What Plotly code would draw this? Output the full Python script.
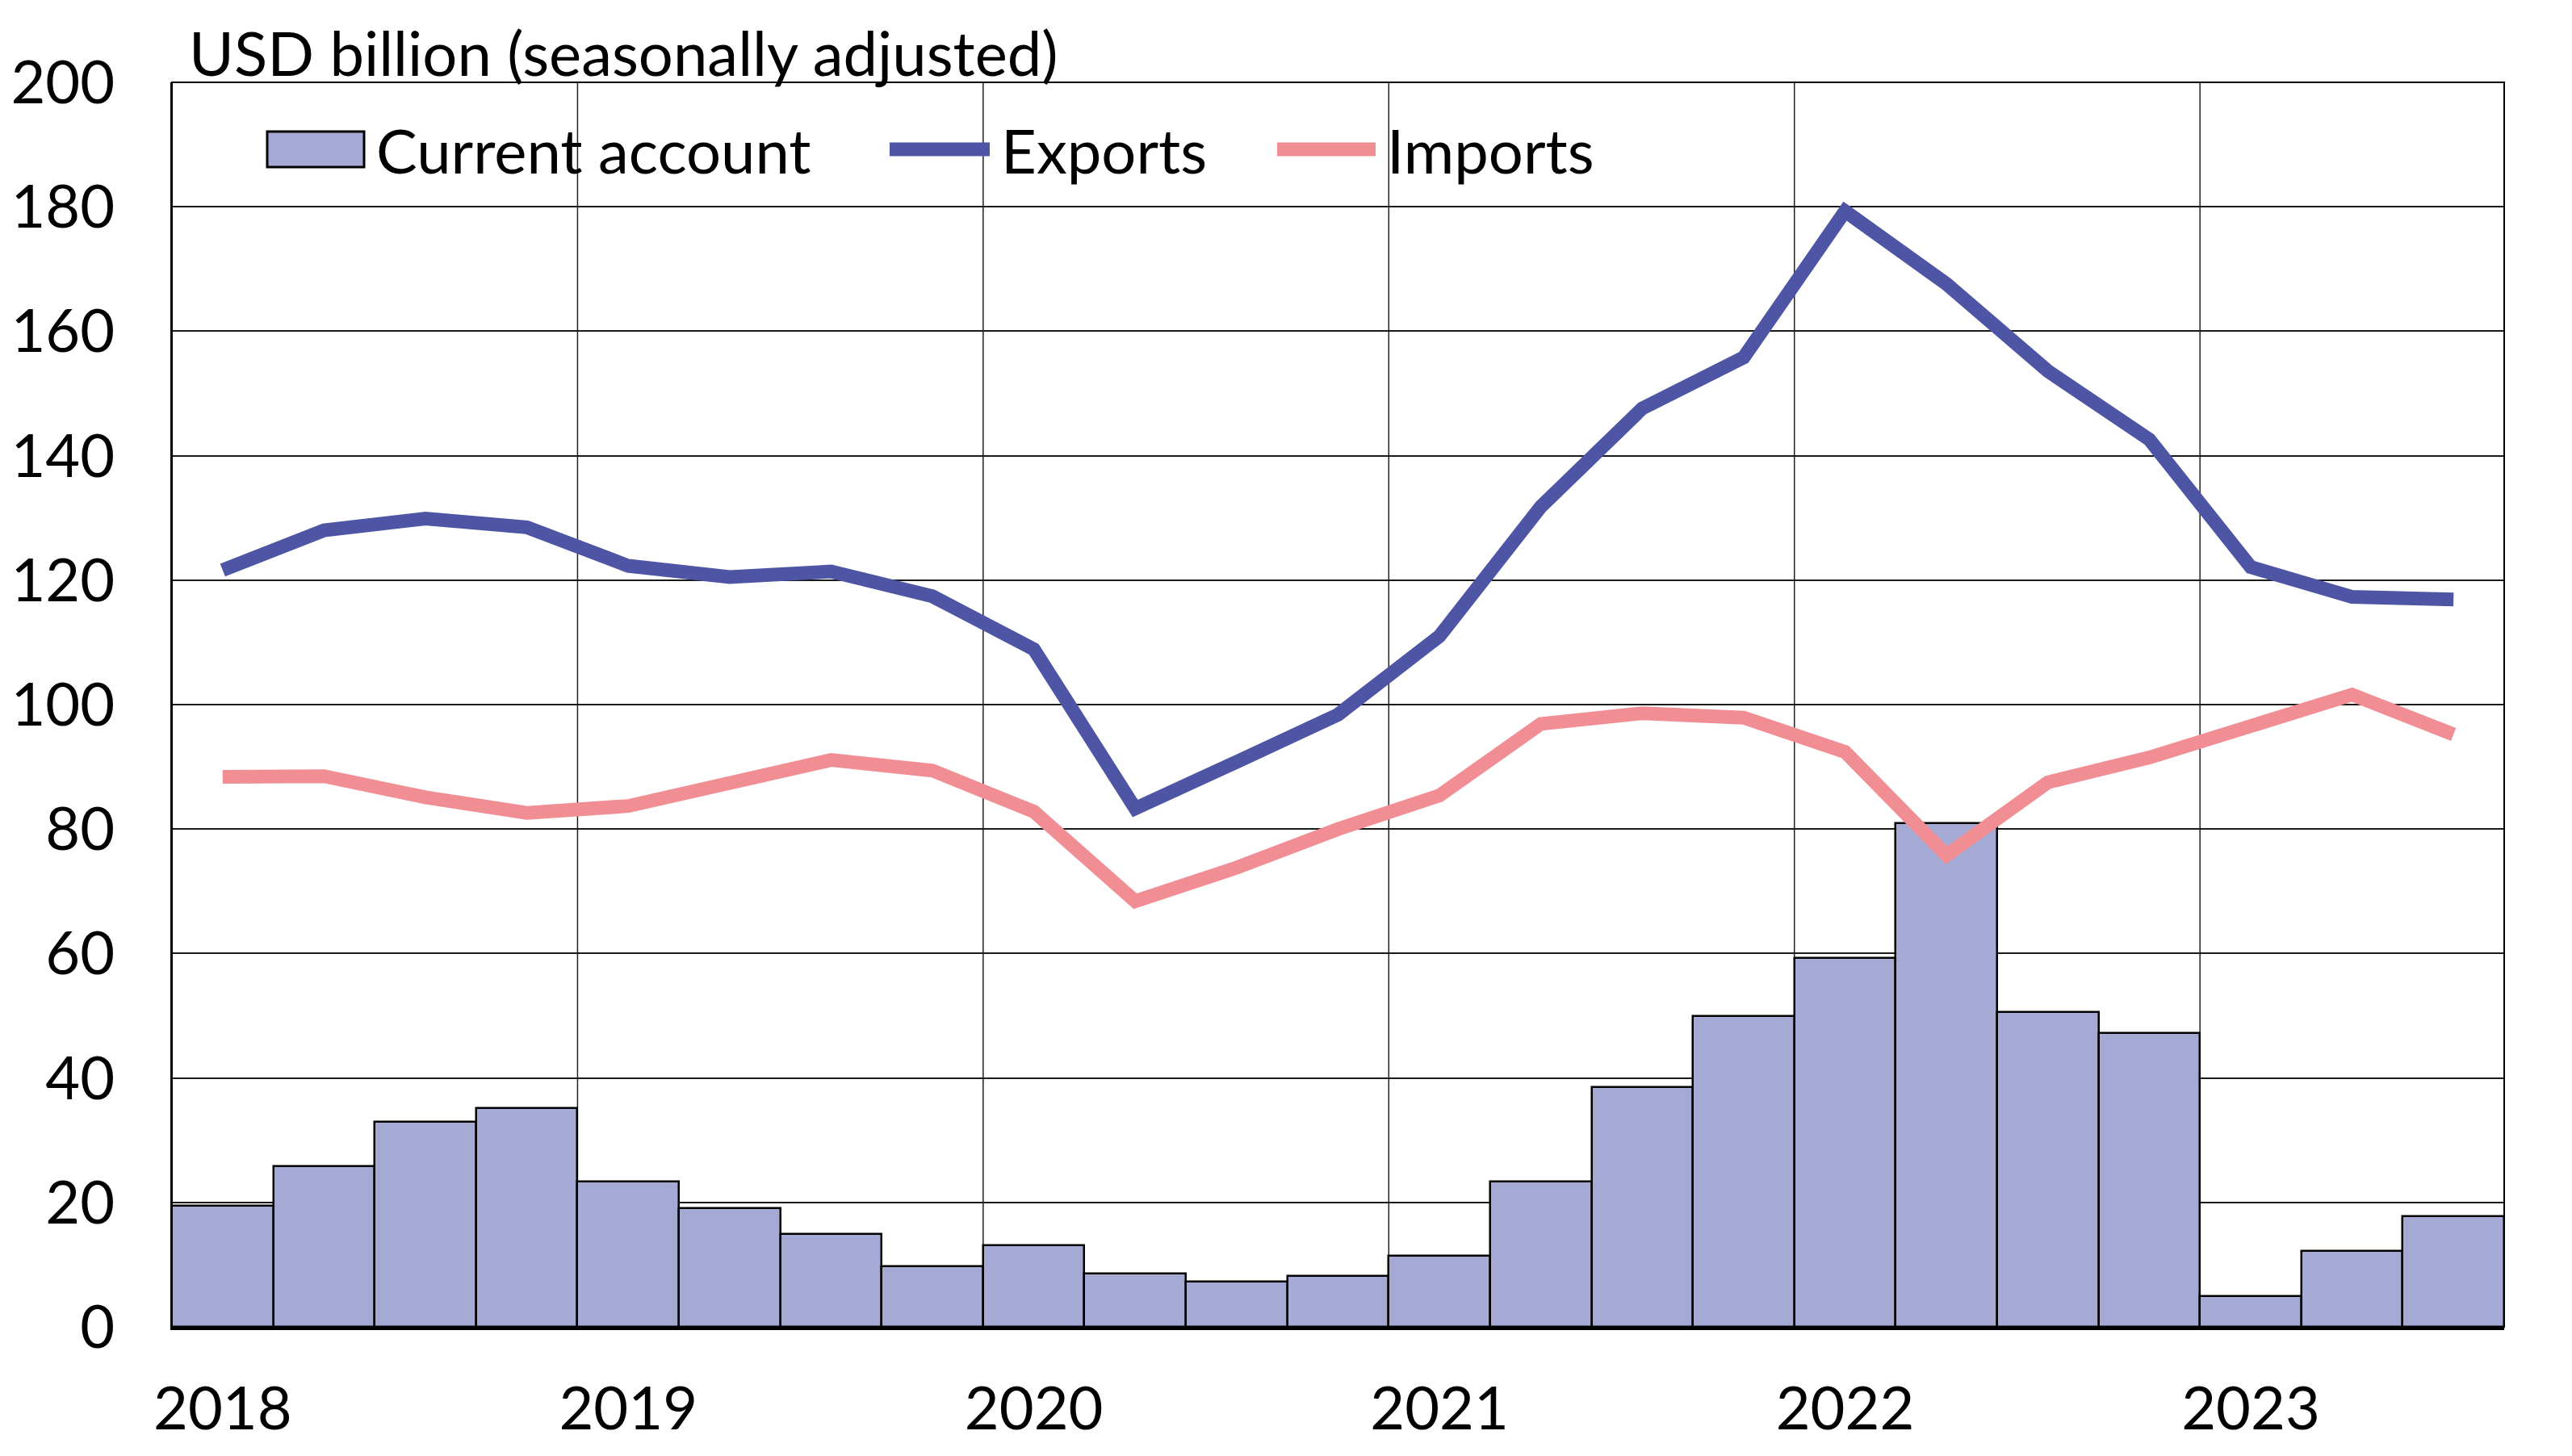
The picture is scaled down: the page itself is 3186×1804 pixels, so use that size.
import plotly.graph_objects as go

# Quarterly data 2018Q1 .. 2023Q3 (USD billion, seasonally adjusted)
quarters = ["2018Q1", "2018Q2", "2018Q3", "2018Q4",
            "2019Q1", "2019Q2", "2019Q3", "2019Q4",
            "2020Q1", "2020Q2", "2020Q3", "2020Q4",
            "2021Q1", "2021Q2", "2021Q3", "2021Q4",
            "2022Q1", "2022Q2", "2022Q3", "2022Q4",
            "2023Q1", "2023Q2", "2023Q3"]
current_account = [19.5, 25.8, 32.9, 35.2,
                   23.3, 19.1, 14.9, 9.7,
                   13.1, 8.6, 7.3, 8.2,
                   11.4, 23.4, 38.5, 49.9,
                   59.3, 80.9, 50.6, 47.2,
                   4.9, 12.2, 17.8]
exports = [121.6, 128.0, 129.9, 128.5,
           122.3, 120.5, 121.4, 117.4,
           108.9, 83.3, 90.8, 98.4,
           111.0, 131.8, 147.6, 155.8,
           179.3, 167.6, 153.6, 142.6,
           122.1, 117.3, 116.9]
imports = [88.4, 88.5, 85.1, 82.6,
           83.7, 87.5, 91.1, 89.4,
           82.8, 68.4, 73.8, 80.0,
           85.4, 96.9, 98.6, 97.9,
           92.4, 75.8, 87.5, 91.5,
           96.4, 101.6, 95.2]
year_labels = ["2018", "2019", "2020", "2021", "2022", "2023"]

x = list(range(len(quarters)))
year_tick_pos = [i for i, q in enumerate(quarters) if q.endswith("Q1")]
year_bounds = [i - 0.5 for i in year_tick_pos[1:]]

BAR_FILL = "#A5AAD5"
EXP_COL = "#4D55A4"
IMP_COL = "#F08E94"
FONT = "Lato"
FS_TICK = 74
FS_TEXT = 76

W, H = 3186, 1804
L, R, T, B = 213, 84, 102, 160
PW, PH = W - L - R, H - T - B


def px(xp):
    return (xp - L) / PW


def py(yp):
    return (H - B - yp) / PH


fig = go.Figure()
fig.add_trace(go.Bar(x=x, y=current_account, name="Current account",
                     marker=dict(color=BAR_FILL, line=dict(color="black", width=2.5)),
                     width=1.0, showlegend=False))
fig.add_trace(go.Scatter(x=x, y=exports, name="Exports", mode="lines",
                         line=dict(color=EXP_COL, width=17), showlegend=False))
fig.add_trace(go.Scatter(x=x, y=imports, name="Imports", mode="lines",
                         line=dict(color=IMP_COL, width=17), showlegend=False))

shapes = []
for xb in year_bounds:
    shapes.append(dict(type="line", xref="x", yref="paper", x0=xb, x1=xb, y0=0, y1=1,
                       line=dict(color="#222222", width=1.5), layer="below"))
# frame
shapes.append(dict(type="rect", xref="paper", yref="paper", x0=0, x1=1, y0=0, y1=1,
                   line=dict(color="black", width=2), layer="above"))

# custom legend
leg_y = py(185)
shapes.append(dict(type="rect", xref="paper", yref="paper",
                   x0=px(331), x1=px(451), y0=py(207), y1=py(163),
                   fillcolor=BAR_FILL, line=dict(color="black", width=3), layer="above"))
shapes.append(dict(type="line", xref="paper", yref="paper",
                   x0=px(1102), x1=px(1226), y0=leg_y, y1=leg_y,
                   line=dict(color=EXP_COL, width=17), layer="above"))
shapes.append(dict(type="line", xref="paper", yref="paper",
                   x0=px(1582), x1=px(1704), y0=leg_y, y1=leg_y,
                   line=dict(color=IMP_COL, width=17), layer="above"))

annotations = [
    dict(text="USD billion (seasonally adjusted)", xref="paper", yref="paper",
         x=px(232), y=py(64), xanchor="left", yanchor="middle", showarrow=False,
         font=dict(family=FONT, size=FS_TEXT, color="black")),
    dict(text="Current account", xref="paper", yref="paper", x=px(464), y=leg_y,
         xanchor="left", yanchor="middle", showarrow=False,
         font=dict(family=FONT, size=FS_TEXT, color="black")),
    dict(text="Exports", xref="paper", yref="paper", x=px(1238), y=leg_y,
         xanchor="left", yanchor="middle", showarrow=False,
         font=dict(family=FONT, size=FS_TEXT, color="black")),
    dict(text="Imports", xref="paper", yref="paper", x=px(1716), y=leg_y,
         xanchor="left", yanchor="middle", showarrow=False,
         font=dict(family=FONT, size=FS_TEXT, color="black")),
]

fig.update_layout(
    width=W, height=H,
    margin=dict(l=L, r=R, t=T, b=B, pad=0, autoexpand=False),
    paper_bgcolor="white", plot_bgcolor="white",
    font=dict(family=FONT, size=FS_TICK, color="black"),
    bargap=0,
    showlegend=False,
    shapes=shapes,
    annotations=annotations,
    xaxis=dict(range=[-0.5, len(quarters) - 0.5], tickmode="array",
               tickvals=year_tick_pos, ticktext=year_labels,
               showgrid=False, zeroline=False, ticks="", showline=True,
               linecolor="black", linewidth=4, ticklabelstandoff=34,
               automargin=False,
               tickfont=dict(family=FONT, size=FS_TICK, color="black")),
    yaxis=dict(range=[0, 200], dtick=20, tick0=0, showgrid=True,
               gridcolor="#1a1a1a", gridwidth=2, zeroline=False,
               showline=True, linecolor="black", linewidth=2, ticks="",
               ticklabelstandoff=54, automargin=False,
               tickfont=dict(family=FONT, size=FS_TICK, color="black")),
)

fig.write_html("out.html")
